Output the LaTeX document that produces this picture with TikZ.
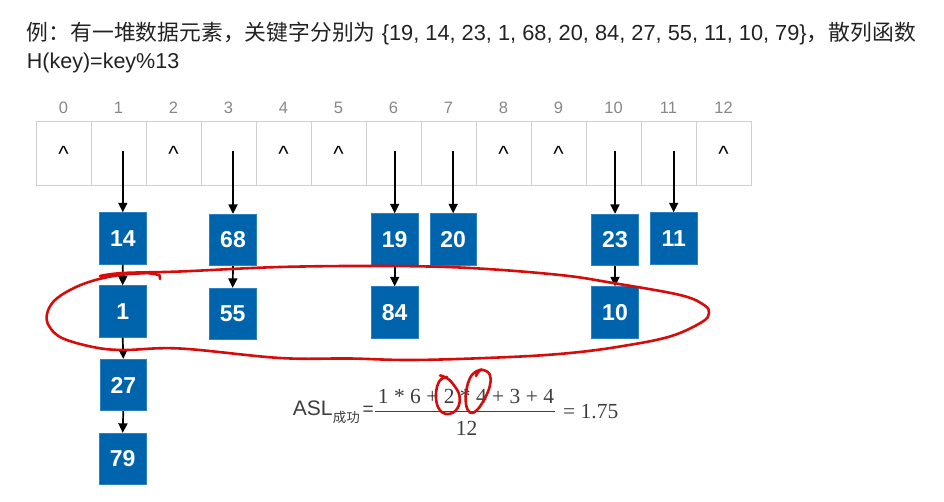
\documentclass[tikz,border=0pt]{standalone}
\usepackage{fontspec}
\setmainfont{Liberation Sans}
\newfontfamily\cjk{Noto Sans CJK SC}
\newfontfamily\seriffont{Liberation Serif}
\usetikzlibrary{arrows.meta}
\definecolor{boxblue}{RGB}{0,100,172}
\definecolor{boxedge}{RGB}{45,128,196}
\definecolor{handred}{RGB}{214,12,12}
\definecolor{txt}{RGB}{34,34,34}
\definecolor{cellline}{RGB}{208,208,208}
\definecolor{idx}{RGB}{135,135,135}
\definecolor{formula}{RGB}{62,62,62}
\begin{document}
\begin{tikzpicture}[x=1pt,y=-1pt,
  cellbox/.style={draw=cellline, line width=0.9pt, minimum width=55pt, minimum height=63.3pt, inner sep=0pt},
  keybox/.style={fill=boxblue, draw=boxedge, line width=0.8pt, minimum width=46.5pt, minimum height=51.5pt, inner sep=0pt, text=white, font=\fontsize{23}{23}\selectfont\bfseries},
  arr/.style={line width=1.7pt, -{Triangle[length=9.5pt,width=9pt]}},
  idxlabel/.style={text=idx, font=\fontsize{16.5}{16.5}\selectfont, anchor=base, inner sep=0pt},
  nul/.style={font=\fontsize{22}{22}\selectfont, anchor=base, inner sep=0pt},
  plain/.style={inner sep=0pt},
  hand/.style={draw=handred, line width=2.6pt, line cap=round, line join=round}
]
\useasboundingbox (0,0) rectangle (944,502);

% title
\node[plain, anchor=base west, text=txt, font=\fontsize{21.8}{21.8}\selectfont] (title1) at (26.7,41)
  {{\cjk 例：有一堆数据元素，关键字分别为} \{19, 14, 23, 1, 68, 20, 84, 27, 55, 11, 10, 79\}{\cjk ，散列函数}};
\node[plain, anchor=base west, text=txt, font=\fontsize{21.5}{21.5}\selectfont] (title2) at (26.7,68.3)
  {H(key)=key\%13};

% hash table
\foreach \i in {0,...,12} {
  \node[cellbox] (cell\i) at ({63.5+55*\i},153.35) {};
  \node[idxlabel] (idx\i) at ({63.5+55*\i},114) {\i};
}
\foreach \i in {0,2,4,5,8,9,12} {
  \node[nul] (nul\i) at ({63.5+55*\i},162) {\textasciicircum};
}

% key boxes
\node[keybox] (k14) at (122.8,238.5) {14};
\node[keybox] (k68) at (233,240) {68};
\node[keybox] (k19) at (394.7,239.5) {19};
\node[keybox] (k20) at (453.2,239.5) {20};
\node[keybox] (k23) at (615,240) {23};
\node[keybox] (k11) at (673.7,238.5) {11};
\node[keybox] (k1) at (122.7,311.5) {1};
\node[keybox] (k55) at (232.7,314) {55};
\node[keybox] (k84) at (394.7,312.5) {84};
\node[keybox] (k10) at (615,312.5) {10};
\node[keybox] (k27) at (123.3,385) {27};
\node[keybox] (k79) at (122.7,459) {79};

% arrows from table cells
\coordinate (s1) at (122.8,151);
\coordinate (s3) at (233,151);
\coordinate (s6) at (394.7,151);
\coordinate (s7) at (453.2,151);
\coordinate (s10) at (615,151);
\coordinate (s11) at (673.7,151);
\draw[arr] (s1) -- (k14.north);
\draw[arr] (s3) -- (k68.north);
\draw[arr] (s6) -- (k19.north);
\draw[arr] (s7) -- (k20.north);
\draw[arr] (s10) -- (k23.north);
\draw[arr] (s11) -- (k11.north);

% chain arrows
\draw[arr] (k14.south) -- (k1.north);
\draw[arr] (k1.south) -- (k27.north);
\draw[arr] (k27.south) -- (k79.north);
\draw[arr] (k68.south) -- (k55.north);
\draw[arr] (k19.south) -- (k84.north);
\draw[arr] (k23.south) -- (k10.north);

% formula
\node[plain, anchor=base west, text=formula, font=\fontsize{21}{21}\selectfont] (asl) at (292.7,415) {ASL};
\node[plain, anchor=base west, text=formula, font=\cjk\fontsize{13.5}{13.5}\selectfont] (sub) at (332.7,422) {成功};
\node[plain, anchor=base west, text=formula, font=\fontsize{19}{19}\selectfont] (eq1) at (362.5,415) {=};
\coordinate (barL) at (375,411.7);
\coordinate (barR) at (555,411.7);
\draw[formula, line width=0.9pt] (barL) -- (barR);
\node[plain, anchor=base, text=formula, font=\seriffont\fontsize{21.5}{21.5}\selectfont] (num) at (466,403) {1 * 6 + 2 * 4 + 3 + 4};
\node[plain, anchor=base, text=formula, font=\seriffont\fontsize{21.5}{21.5}\selectfont] (den) at (466.7,435) {12};
\node[plain, anchor=base west, text=formula, font=\seriffont\fontsize{21.5}{21.5}\selectfont] (res) at (563,418.3) {= 1.75};

% hand-drawn red marks
\draw[hand] plot[smooth, tension=0.6] coordinates {
  (100,276) (123,273) (180,271.5) (280,267) (385,266) (470,268) (560,275) (613,283)
  (680,295) (704,305) (709,313) (702,322) (670,336.5) (620,346.5) (570,353) (510,357)
  (415,360) (350,358.5) (280,358) (180,348.5) (123,350) (93,347) (62,338) (49,326)
  (47,314) (54,301) (70,290) (92,281) (120,275) (150,273)};
\draw[hand] (148,273) -- (159.5,275) -- (160,279);
\draw[hand] plot[smooth, tension=0.7] coordinates {
  (440,375.5) (446,377.5) (453,384) (459.5,396) (457,409) (447,414) (438.5,408) (436,394) (439.5,381) (447,377)};
\draw[hand] plot[smooth, tension=0.7] coordinates {
  (476,376) (481,370) (489.5,374) (490,385) (485,398) (477,410) (470,412.5) (466,404) (466.5,390) (470,378) (476,371.5) (482,369.5)};
\end{tikzpicture}
\end{document}
